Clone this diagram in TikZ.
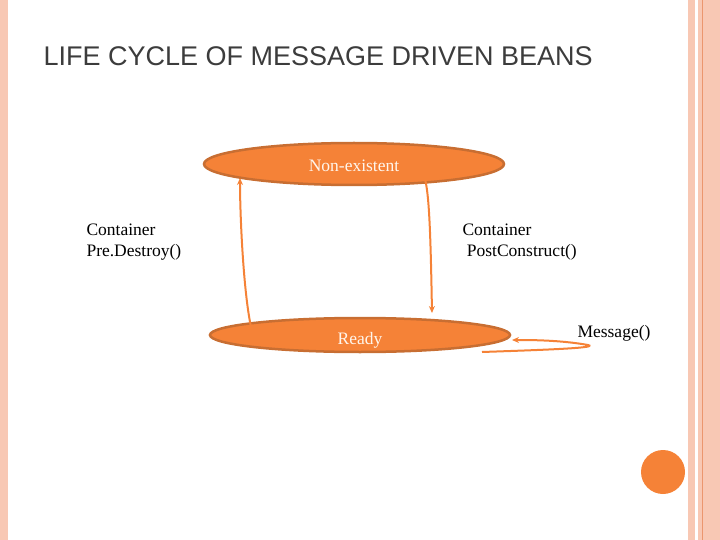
\documentclass[tikz,border=0pt]{standalone}
\usepackage{fontspec}
\setmainfont{Liberation Serif}
\newfontfamily\titlefont{Liberation Sans}
\usetikzlibrary{arrows.meta,shapes.geometric}
\definecolor{beanorange}{RGB}{245,130,55}
\definecolor{beanedge}{RGB}{200,110,50}
\definecolor{stripe}{RGB}{248,200,180}
\definecolor{stripeline}{RGB}{235,150,110}
\definecolor{titlegray}{RGB}{60,60,60}
\begin{document}
\begin{tikzpicture}
    [x=1pt,y=-1pt,
     state/.style={draw=beanedge, line width=2.5pt, fill=beanorange, ellipse, inner sep=0pt},
     lbl/.style={font=\fontsize{17.5}{21}\selectfont, align=left},
     flow/.style={draw=beanorange, line width=2pt, -{Stealth[length=7pt,width=6pt]}}]
  \useasboundingbox (0,0) rectangle (720,540);
  % side stripes
  \fill[stripe] (0,0) rectangle (8,540);
  \fill[stripe] (688,0) rectangle (695,540);
  \fill[stripe] (698,0) rectangle (720,540);
  \draw[stripeline, line width=0.8pt] (702,0) -- (702,540);
  \fill[beanorange] (663,472) circle (22);

  \node[anchor=west, font=\titlefont\fontsize{27}{31}\selectfont, text=titlegray] (title) at (40,56) {LIFE CYCLE OF MESSAGE DRIVEN BEANS};

  \node[state, minimum width=300pt, minimum height=42pt] (nonex) at (354,164) {};
  \node[state, minimum width=300pt, minimum height=34pt] (ready) at (360,335) {};
  \node[lbl, text=white!92!orange] (nonexT) at (354,166) {Non-existent};
  \node[lbl, text=white!92!orange] (readyT) at (360,340) {Ready};
  \coordinate (nonexL) at (240,178);
  \coordinate (readyE) at (512,340);

  \node[lbl, anchor=north west] (pre) at (83,220) {Container\\Pre.Destroy()};
  \node[lbl, anchor=north west] (post) at (459,220) {Container\\\ PostConstruct()};
  \node[lbl, anchor=west] (msg) at (574,333) {Message()};

  \draw[flow] (nonexT.east) -- (418,167) .. controls (428,172) and (430,200) .. (432,313);
  \draw[flow] (268,328) -- (252,331) .. controls (244,300) and (240,220) .. (nonexL);
  \draw[flow] (482,352) .. controls (540,350) and (600,348) .. (588,345) .. controls (560,340) and (530,340) .. (readyE);
\end{tikzpicture}
\end{document}
